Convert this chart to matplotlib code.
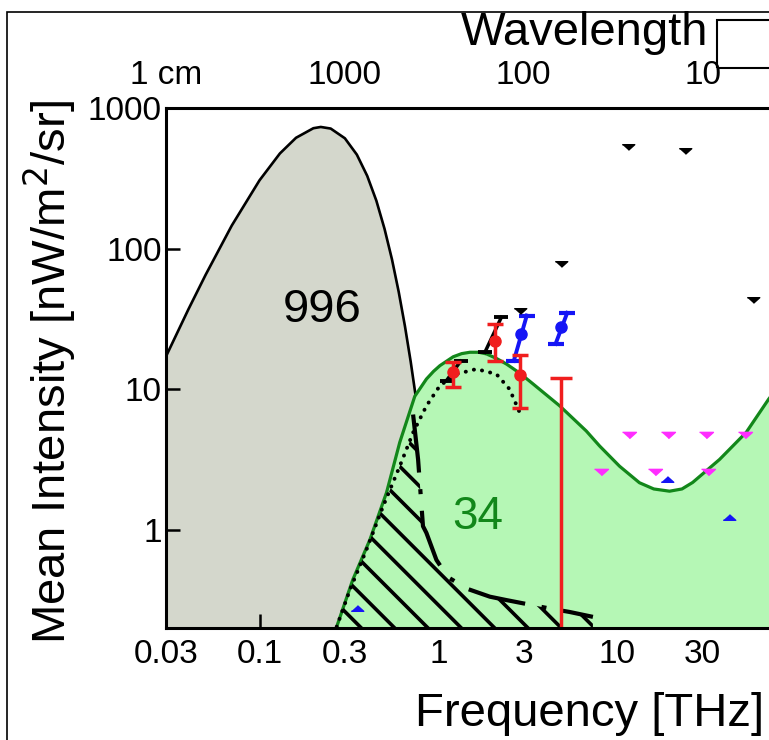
import matplotlib
matplotlib.use("Agg")
import matplotlib.pyplot as plt
from matplotlib import patches
from matplotlib.ticker import FixedLocator, FixedFormatter, NullLocator

plt.rcParams['font.family'] = ['Liberation Sans', 'DejaVu Sans']
plt.rcParams['hatch.linewidth'] = 2.6

# CMB (grey area)
cmb_nu = [0.03, 0.04, 0.05, 0.07, 0.1, 0.13, 0.16, 0.2, 0.22, 0.25, 0.3, 0.35,
          0.4, 0.45, 0.5, 0.55, 0.6, 0.65, 0.7, 0.75, 0.8, 0.85, 0.9, 0.95, 1.0, 1.05]
cmb_I = [17.1, 36.9, 65.2, 146, 306, 475, 614, 718, 733, 714, 609, 466,
         329, 219, 138, 83.9, 49.2, 28.1, 15.7, 8.57, 4.59, 2.43, 1.27, 0.651, 0.33, 0.17]

# CIB + COB (green area)
cib_nu = [0.27, 0.332, 0.414, 0.513, 0.608, 0.738, 0.857, 0.94, 1.02, 1.21, 1.35, 1.50,
          1.68, 1.86, 2.10, 2.40, 2.85, 3.38, 4.77, 6.71, 7.97, 10.3, 13.3, 16.0, 19.6,
          23.0, 26.4, 37.3, 52.6, 70.2, 80]
cib_I = [0.204, 0.44, 0.849, 1.84, 4.18, 8.9, 11.8, 13.4, 14.7, 17.0, 17.9, 18.3,
         18.3, 17.8, 16.6, 15.1, 13.0, 10.9, 7.6, 5.04, 3.94, 2.83, 2.16, 1.95, 1.88,
         1.95, 2.17, 3.16, 4.93, 8.49, 10.5]

# dotted model
model_nu = [0.27, 0.32, 0.396, 0.491, 0.608, 0.722, 0.857, 1.02, 1.26, 1.63, 2.11, 2.50, 2.85]
model_I = [0.204, 0.373, 0.72, 1.47, 2.83, 4.91, 7.6, 10.6, 12.8, 13.9, 12.8, 10.0, 6.8]

# dash-dot curve
dash_nu = [0.722, 0.77, 0.82, 0.857, 0.975, 1.13, 1.45, 1.94, 2.40, 4.08, 5.42, 7.31]
dash_I = [6.6, 3.16, 1.06, 0.95, 0.61, 0.46, 0.38, 0.334, 0.316, 0.277, 0.26, 0.24]

# hatched area outline
hatch_nu = [0.27, 0.32, 0.396, 0.491, 0.608, 0.70, 0.722, 0.77, 0.82, 0.857, 0.975,
            1.13, 1.45, 1.94, 2.40, 4.08, 5.42, 7.31, 7.31]
hatch_I = [0.204, 0.373, 0.72, 1.47, 2.83, 4.4, 6.6, 3.16, 1.06, 0.95, 0.61,
           0.46, 0.38, 0.334, 0.316, 0.277, 0.26, 0.24, 0.15]

# red measurements
red_nu = [1.21, 2.07, 2.85]
red_I = [13.2, 22.1, 12.6]
red_lo = [10.4, 15.9, 7.4]
red_hi = [15.6, 29.2, 17.5]
red_bar_nu = [4.87]
red_bar_I = [0.05]
red_bar_hi = [12.1]

# black slanted bars
blk_lo_nu = [1.11, 1.82]
blk_lo_I = [11.5, 18.3]
blk_hi_nu = [1.33, 2.25]
blk_hi_I = [15.8, 32.5]

# blue slanted bars
blu_lo_nu = [2.64, 4.52]
blu_lo_I = [15.9, 21.0]
blu_mid_nu = [2.91, 4.87]
blu_mid_I = [24.7, 27.6]
blu_hi_nu = [3.12, 5.25]
blu_hi_I = [33.4, 34.9]

# upper / lower limits
blk_lim_nu = [2.85, 4.83, 11.5, 23.8, 57.3]
blk_lim_I = [36, 78, 532, 496, 43.4]
mag_lim_nu = [11.7, 19.2, 31.5, 52, 8.15, 16.2, 32.1]
mag_lim_I = [4.69, 4.69, 4.69, 4.69, 2.56, 2.56, 2.56]
blu_lim_nu = [0.349, 19.0, 42.1]
blu_lim_I = [0.276, 2.28, 1.23]

freq_ticks = [0.03, 0.1, 0.3, 1, 3, 10, 30, 100, 300]
freq_labels = ['0.03', '0.1', '0.3', '1', '3', '10', '30', '100', '300']
wave_ticks = [0.03, 0.3, 3, 30, 300]
wave_labels = ['1 cm', '1000', '100', '10', '1']
int_ticks = [1, 10, 100, 1000]
int_labels = ['1', '10', '100', '1000']

W, H = 769, 740
fig = plt.figure(figsize=(W / 100, H / 100), dpi=100)
x0, x1 = 166, 975
y0, y1 = 108, 628
ax = fig.add_axes([x0 / W, 1 - y1 / H, (x1 - x0) / W, (y1 - y0) / H])
ax.set_xscale('log')
ax.set_yscale('log')
ax.set_xlim(0.03, 1000)
ax.set_ylim(0.2, 1000)

ymin = 0.01
ax.fill_between(cmb_nu, ymin, cmb_I, color='#d4d7cc', lw=0, zorder=1)
ax.plot(cmb_nu, cmb_I, color='black', lw=1.9, zorder=2)
ax.fill_between(cib_nu, ymin, cib_I, color='#b5f7b5', lw=0, zorder=3)
ax.plot(cib_nu, cib_I, color='#12871a', lw=2.3, zorder=4)
ax.plot(model_nu, model_I, color='black', lw=2.8, ls=(0, (0.05, 2.1)),
        dash_capstyle='round', zorder=5)
ax.fill(hatch_nu, hatch_I, facecolor='none', edgecolor='black', hatch='\\',
        lw=0, zorder=5)
ax.plot(dash_nu, dash_I, color='black', lw=3, ls=(0, (14, 4, 1.2, 4)), zorder=6)

# red error bars
yerr = [[v - lo for v, lo in zip(red_I, red_lo)], [hi - v for v, hi in zip(red_I, red_hi)]]
ax.errorbar(red_nu, red_I, yerr=yerr, fmt='o', color='#f01e1e', ms=8, elinewidth=2.5,
            capsize=6, capthick=2.5, zorder=9)
yerr2 = [[0], [h - v for v, h in zip(red_bar_I, red_bar_hi)]]
ax.errorbar(red_bar_nu, red_bar_I, yerr=yerr2, fmt='none', ecolor='#f01e1e', elinewidth=2.5,
            capsize=8, capthick=2.5, zorder=9)

# black and blue slanted bars
for i in range(len(blk_lo_nu)):
    ax.plot([blk_lo_nu[i], blk_hi_nu[i]], [blk_lo_I[i], blk_hi_I[i]], color='black',
            lw=2.5, marker='_', ms=10, mew=2.8, zorder=8)
for i in range(len(blu_lo_nu)):
    ax.plot([blu_lo_nu[i], blu_hi_nu[i]], [blu_lo_I[i], blu_hi_I[i]], color='#1515f5',
            lw=2.8, marker='_', ms=12, mew=3, zorder=8)
ax.plot(blu_mid_nu, blu_mid_I, 'o', color='#1515f5', ms=8, zorder=8)

down_tri = [(-1, 0.45), (1, 0.45), (0, -0.45)]
up_tri = [(-1, -0.45), (1, -0.45), (0, 0.45)]
ax.plot(blk_lim_nu, blk_lim_I, ls='none', marker=down_tri, ms=9, color='black', zorder=8)
ax.plot(mag_lim_nu, mag_lim_I, ls='none', marker=down_tri, ms=10, color='#ff2dff', zorder=8)
ax.plot(blu_lim_nu, blu_lim_I, ls='none', marker=up_tri, ms=9, color='#1515f5', zorder=8)

ax.text(0.223, 36.8, '996', fontsize=34, ha='center', va='center', zorder=10)
ax.text(1.66, 1.23, '34', fontsize=33, color='#12871a', ha='center', va='center', zorder=10)

for s in ax.spines.values():
    s.set_linewidth(2.2)
    s.set_zorder(12)
ax.xaxis.set_major_locator(FixedLocator(freq_ticks))
ax.xaxis.set_major_formatter(FixedFormatter(freq_labels))
ax.xaxis.set_minor_locator(NullLocator())
ax.yaxis.set_major_locator(FixedLocator(int_ticks))
ax.yaxis.set_major_formatter(FixedFormatter(int_labels))
ax.yaxis.set_minor_locator(NullLocator())
ax.tick_params(axis='both', which='major', direction='in', length=10, width=1.8,
               labelsize=24, top=True, right=True)
ax.tick_params(axis='x', pad=8)
ax.tick_params(axis='y', pad=3)

tw = ax.twiny()
tw.set_xscale('log')
tw.set_xlim(ax.get_xlim())
tw.xaxis.set_major_locator(FixedLocator(wave_ticks))
tw.xaxis.set_major_formatter(FixedFormatter(wave_labels))
tw.xaxis.set_minor_locator(NullLocator())
tw.tick_params(axis='x', length=0, labelsize=24, pad=12)
for s in tw.spines.values():
    s.set_visible(False)

fig.text(590 / W, 1 - 714 / H, 'Frequency [THz]', fontsize=34, ha='center', va='center')
fig.text(585 / W, 1 - 33 / H, 'Wavelength', fontsize=34, ha='center', va='center')
fig.text(50 / W, 1 - 372 / H, 'Mean Intensity [nW/m$^2$/sr]', fontsize=34, rotation=90,
         ha='center', va='center')

fig.add_artist(patches.Rectangle((7 / W, -0.5), 2, 1 - 12 / H + 0.5, transform=fig.transFigure,
                                 fill=False, lw=1.2, edgecolor='black'))
fig.add_artist(patches.Rectangle((717 / W, 1 - 68 / H), 1, 48 / H, transform=fig.transFigure,
                                 fill=False, lw=1.5, edgecolor='black'))

fig.savefig('out.png', dpi=100)
